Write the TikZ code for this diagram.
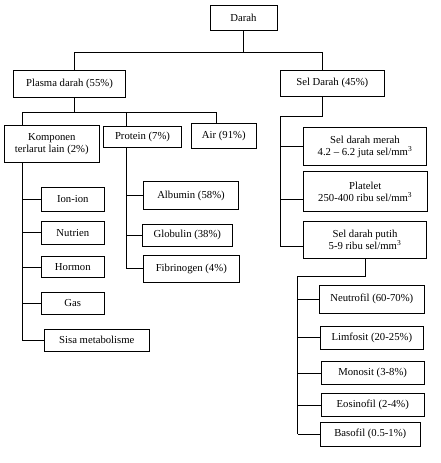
\documentclass[tikz,border=0pt]{standalone}
\usepackage{fontspec}
\setmainfont{Liberation Serif}
\usetikzlibrary{calc}

\tikzset{
  box/.style={draw, line width=0.7pt, inner sep=0pt, align=center},
  link/.style={line width=0.7pt},
}

\begin{document}
\begin{tikzpicture}[x=1pt, y=1pt, font=\fontsize{10.7}{12}\selectfont]
  \useasboundingbox (0,0) rectangle (441,-463);

  % Root and first level
  \node[box, minimum width=67pt, minimum height=25pt] (darah) at (243.5,-17.5) {Darah};
  \node[box, minimum width=112pt, minimum height=26.5pt] (plasma) at (69.5,-84) {Plasma darah (55\%)};
  \node[box, minimum width=104pt, minimum height=26.5pt] (seldarah) at (332.3,-83.3) {Sel Darah (45\%)};

  \coordinate (jl) at (74,-52);
  \coordinate (jr) at (322.7,-52);
  \draw[link] (darah.south) -- (darah.south |- jl);
  \draw[link] (plasma.north -| jl) -- (jl) -- (jr) -- (seldarah.north -| jr);

  % Plasma darah
  \node[box, minimum width=95.7pt, minimum height=37pt] (komponen) at (51.8,-143.8) {Komponen\\terlarut lain (2\%)};
  \node[box, minimum width=77.6pt, minimum height=21.3pt] (protein) at (142.5,-136.7) {Protein (7\%)};
  \node[box, minimum width=65pt, minimum height=24.7pt] (air) at (223.8,-135.7) {Air (91\%)};

  \coordinate (pb) at (74,-112);
  \coordinate (pk) at (22.3,-112);
  \coordinate (pp) at (126.3,-112);
  \coordinate (pa) at (216.7,-112);
  \draw[link] (plasma.south -| pb) -- (pb);
  \draw[link] (komponen.north -| pk) -- (pk) -- (pa) -- (air.north -| pa);
  \draw[link] (protein.north -| pp) -- (pp);

  % Komponen terlarut lain
  \coordinate (kv) at (22.7,0);
  \foreach \n/\t/\y/\h in {ionion/Ion-ion/199.5/24.4, nutrien/Nutrien/232.7/23.3,
                          hormon/Hormon/267.2/21, gas/Gas/303.3/22} {
    \node[box, minimum width=63pt, minimum height=\h pt] (\n) at (72.8,-\y) {\t};
    \draw[link] (kv |- \n.west) -- (\n.west);
  }
  \node[box, minimum width=105pt, minimum height=22pt] (sisa) at (96.8,-340.3) {Sisa metabolisme};
  \draw[link] (komponen.south -| kv) -- (kv |- sisa.west) -- (sisa.west);

  % Protein
  \coordinate (pv) at (126.3,0);
  \node[box, minimum width=95.4pt, minimum height=27.6pt] (albumin) at (191,-195.5) {Albumin (58\%)};
  \node[box, minimum width=90pt, minimum height=22.7pt] (globulin) at (187.3,-235.3) {Globulin (38\%)};
  \node[box, minimum width=96pt, minimum height=26.3pt] (fibrinogen) at (191.3,-268.8) {Fibrinogen (4\%)};
  \draw[link] (protein.south -| pv) -- (pv |- fibrinogen.west) -- (fibrinogen.west);
  \draw[link] (pv |- albumin.west) -- (albumin.west);
  \draw[link] (pv |- globulin.west) -- (globulin.west);

  % Sel darah
  \node[box, minimum width=123.4pt, minimum height=38.4pt] (merah) at (365,-146.5)
    {Sel darah merah\\4.2 -- 6.2 juta sel/mm\textsuperscript{3}};
  \node[box, minimum width=123.7pt, minimum height=40pt] (platelet) at (365.2,-191.7)
    {Platelet\\250-400 ribu sel/mm\textsuperscript{3}};
  \node[box, minimum width=123.4pt, minimum height=36.6pt] (putih) at (365,-240)
    {Sel darah putih\\5-9 ribu sel/mm\textsuperscript{3}};

  \coordinate (sj) at (322.7,-116.3);
  \coordinate (sv) at (280.7,-116.3);
  \coordinate (pwl) at ([yshift=-6.7pt]putih.west);
  \coordinate (pll) at ([yshift=-7.3pt]platelet.west);
  \draw[link] (seldarah.south -| sj) -- (sj) -- (sv) -- (sv |- pwl) -- (pwl);
  \draw[link] (sv |- merah.west) -- (merah.west);
  \draw[link] (sv |- pll) -- (pll);

  % Sel darah putih
  \coordinate (wj) at (297.7,-276);
  \foreach \n/\t/\x/\y/\w/\h in {neutrofil/Neutrofil (60-70\%)/371.8/299.3/105/27.3,
                                limfosit/Limfosit (20-25\%)/371.8/337.8/103/22.3,
                                monosit/Monosit (3-8\%)/372.7/373/103.3/22.6,
                                eosinofil/Eosinofil (2-4\%)/372.8/405/103/23.4,
                                basofil/Basofil (0.5-1\%)/370.3/434.2/100/23.7} {
    \node[box, minimum width=\w pt, minimum height=\h pt] (\n) at (\x,-\y) {\t};
    \draw[link] (wj |- \n.west) -- (\n.west);
  }
  \draw[link] (putih.south) -- (putih.south |- wj) -- (wj) -- (wj |- basofil.west);

\end{tikzpicture}
\end{document}
